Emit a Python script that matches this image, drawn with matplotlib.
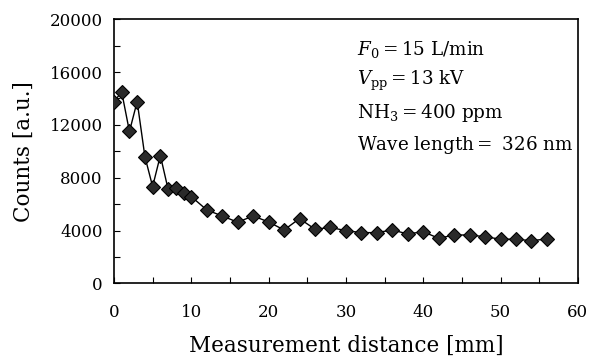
import matplotlib.pyplot as plt
from matplotlib.ticker import MultipleLocator

distance = [0, 1, 2, 3, 4, 5, 6, 7, 8, 9, 10, 12, 14, 16, 18, 20, 22, 24,
            26, 28, 30, 32, 34, 36, 38, 40, 42, 44, 46, 48, 50, 52, 54, 56]
counts = [13770, 14490, 11500, 13770, 9600, 7330, 9680, 7130, 7200, 6870,
          6570, 5560, 5100, 4630, 5100, 4650, 4040, 4900,
          4100, 4230, 3990, 3840, 3840, 4040, 3740, 3910, 3410, 3660,
          3660, 3530, 3340, 3340, 3230, 3360]

conditions = [r"$F_0 = 15\ \mathrm{L/min}$",
              r"$V_{\mathrm{pp}} = 13\ \mathrm{kV}$",
              r"$\mathrm{NH_3} = 400\ \mathrm{ppm}$",
              r"$\mathrm{Wave\ length} =\ 326\ \mathrm{nm}$"]

plt.rcParams["font.family"] = "DejaVu Serif"
plt.rcParams["mathtext.fontset"] = "dejavuserif"

fig = plt.figure(figsize=(5.89, 3.57), dpi=100)
ax = fig.add_axes([0.1935, 0.2064, 0.7875, 0.7396])

ax.plot(distance, counts, color="black", linewidth=1.0, marker="D",
        markersize=7.5, markerfacecolor="#2a2a2a", markeredgecolor="black",
        markeredgewidth=0.8, zorder=3)

ax.set_xlim(0, 60)
ax.set_ylim(0, 20000)
ax.xaxis.set_major_locator(MultipleLocator(10))
ax.xaxis.set_minor_locator(MultipleLocator(5))
ax.yaxis.set_major_locator(MultipleLocator(4000))
ax.yaxis.set_minor_locator(MultipleLocator(2000))
ax.tick_params(which="both", direction="in", length=4, width=0.8,
               top=False, right=False, labelsize=12)
ax.tick_params(axis="x", pad=15)
ax.tick_params(axis="y", pad=8)
for sp in ax.spines.values():
    sp.set_linewidth(1.2)

ax.set_xlabel("Measurement distance [mm]", fontsize=15.5, labelpad=10)
ax.set_ylabel("Counts [a.u.]", fontsize=15.5, labelpad=11)

# condition labels
for i, txt in enumerate(conditions):
    ax.text(0.525, 0.885 - i * 0.12, txt, transform=ax.transAxes,
            fontsize=13.2, va="center", ha="left")

plt.savefig("out.png", dpi=100)
